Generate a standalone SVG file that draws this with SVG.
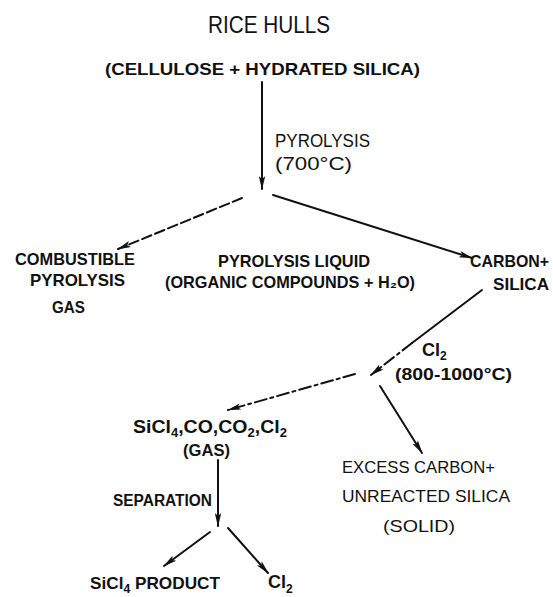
<svg xmlns="http://www.w3.org/2000/svg" width="553" height="597" viewBox="0 0 553 597">
  <style>
    text { font-family: "Liberation Sans", "DejaVu Sans", sans-serif; fill: #111; }
    .b { font-weight: bold; }
    .edge { fill: none; stroke: #111; stroke-width: 2; stroke-linecap: round; }
    .dash { stroke-dasharray: 10 4; }
    .dashdot { stroke-dasharray: 12 4 3 4; }
  </style>
  <defs>
    <marker id="arrow" viewBox="0 0 14 8" refX="13" refY="4" markerWidth="14" markerHeight="8" markerUnits="userSpaceOnUse" orient="auto">
      <path d="M0,0.8 L14,4 L0,7.2 L3,4 Z" fill="#111"/>
    </marker>
  </defs>

  <rect width="553" height="597" fill="#fff"/>

  <g id="rice-hulls">
    <text x="208" y="33" font-size="24" textLength="122" lengthAdjust="spacingAndGlyphs">RICE HULLS</text>
    <text x="105" y="75" font-size="17" class="b" textLength="315" lengthAdjust="spacingAndGlyphs">(CELLULOSE + HYDRATED SILICA)</text>
  </g>

  <g id="pyrolysis-label">
    <text x="275" y="147" font-size="19" textLength="95" lengthAdjust="spacingAndGlyphs">PYROLYSIS</text>
    <text x="275" y="170" font-size="19" textLength="77" lengthAdjust="spacingAndGlyphs">(700°C)</text>
  </g>

  <g id="pyrolysis-gas">
    <text x="15" y="265" font-size="17" class="b" textLength="120" lengthAdjust="spacingAndGlyphs">COMBUSTIBLE</text>
    <text x="30" y="286" font-size="17" class="b" textLength="95" lengthAdjust="spacingAndGlyphs">PYROLYSIS</text>
    <text x="52" y="313" font-size="17" class="b" textLength="33" lengthAdjust="spacingAndGlyphs">GAS</text>
  </g>

  <g id="pyrolysis-liquid">
    <text x="218" y="267" font-size="17" class="b" textLength="152" lengthAdjust="spacingAndGlyphs">PYROLYSIS LIQUID</text>
    <text x="165" y="288" font-size="17" class="b" textLength="250" lengthAdjust="spacingAndGlyphs">(ORGANIC COMPOUNDS + H₂O)</text>
  </g>

  <g id="carbon-silica">
    <text x="470" y="267" font-size="17" class="b" textLength="79" lengthAdjust="spacingAndGlyphs">CARBON+</text>
    <text x="493" y="290" font-size="17" class="b" textLength="56" lengthAdjust="spacingAndGlyphs">SILICA</text>
  </g>

  <g id="chlorination-label">
    <text x="422" y="356" font-size="18" class="b">Cl<tspan font-size="12" dy="4">2</tspan></text>
    <text x="395" y="380" font-size="17" class="b" textLength="117" lengthAdjust="spacingAndGlyphs">(800-1000°C)</text>
  </g>

  <g id="chloride-gas">
    <text x="133" y="433" font-size="18" class="b" textLength="154" lengthAdjust="spacingAndGlyphs">SiCl<tspan font-size="12" dy="4">4</tspan><tspan dy="-4">,CO,CO</tspan><tspan font-size="12" dy="4">2</tspan><tspan dy="-4">,Cl</tspan><tspan font-size="12" dy="4">2</tspan></text>
    <text x="183" y="456" font-size="17" class="b" textLength="47" lengthAdjust="spacingAndGlyphs">(GAS)</text>
  </g>

  <g id="separation-label">
    <text x="113" y="506" font-size="16" class="b" textLength="99" lengthAdjust="spacingAndGlyphs">SEPARATION</text>
  </g>

  <g id="solid-residue">
    <text x="342" y="473" font-size="17" textLength="153" lengthAdjust="spacingAndGlyphs">EXCESS CARBON+</text>
    <text x="342" y="502" font-size="17" textLength="168" lengthAdjust="spacingAndGlyphs">UNREACTED SILICA</text>
    <text x="383" y="532" font-size="17" textLength="72" lengthAdjust="spacingAndGlyphs">(SOLID)</text>
  </g>

  <g id="sicl4-product">
    <text x="90" y="589" font-size="17" class="b" textLength="130" lengthAdjust="spacingAndGlyphs">SiCl<tspan font-size="12" dy="4">4</tspan><tspan dy="-4"> PRODUCT</tspan></text>
  </g>

  <g id="chlorine-recycle">
    <text x="268" y="588" font-size="18" class="b">Cl<tspan font-size="12" dy="5">2</tspan></text>
  </g>

  <g id="connectors">
    <path class="edge" d="M262,82 L262,189" marker-end="url(#arrow)"/>
    <path class="edge dash" d="M242,198 L118,249" marker-end="url(#arrow)"/>
    <path class="edge" d="M273,195 L472,258" marker-end="url(#arrow)"/>
    <path class="edge" d="M482,290 L412,343"/>
    <path class="edge dashdot" d="M412,343 L371,375" marker-end="url(#arrow)"/>
    <path class="edge dashdot" d="M355,374 L228,410" marker-end="url(#arrow)"/>
    <path class="edge" d="M380,386 L422,453" marker-end="url(#arrow)"/>
    <path class="edge" d="M218,460 L218,526" marker-end="url(#arrow)"/>
    <path class="edge" d="M210,532 L164,566" marker-end="url(#arrow)"/>
    <path class="edge" d="M228,528 L268,573" marker-end="url(#arrow)"/>
  </g>
</svg>
